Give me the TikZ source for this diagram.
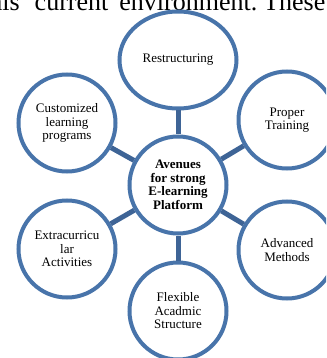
\documentclass[tikz,border=0pt]{standalone}
\usepackage{fontspec}
\setmainfont{Liberation Serif}
\usepackage{xcolor}
\definecolor{rim}{RGB}{72,116,170}
\definecolor{spk}{RGB}{62,100,150}
\usetikzlibrary{shapes.geometric}

\begin{document}
\begin{tikzpicture}[x=1pt,y=-1pt,
  bubble/.style={circle,draw=rim,line width=4pt,fill=white,minimum size=97pt,
    inner sep=0pt,align=center,font=\fontsize{13}{13.5}\selectfont},
  link/.style={draw=spk,line width=5pt}]
\useasboundingbox (0,0) rectangle (326,358);
\clip (0,0) rectangle (326,358);
% cut line of the page text above
\node[anchor=base west,inner sep=0pt,font=\fontsize{26}{26}\selectfont] (pagetext) at (-18,11)
  {this\hspace{15pt}current\hspace{11pt}environment.\hspace{6pt}These};

\node[bubble,font=\bfseries\fontsize{13}{13.5}\selectfont] (hub) at (178,185) {Avenues\\for strong\\E-learning\\Platform};
\node[bubble,ellipse,minimum width=117pt,minimum height=97pt] (restr) at (178,60) {Restructuring};
\node[bubble] (train) at (287,120) {Proper\\Training};
\node[bubble] (adv) at (287,250) {Advanced\\Methods};
\node[bubble] (flex) at (178,311) {Flexible\\Acadmic\\Structure};
\node[bubble] (extra) at (67,249) {Extracurricu\\lar\\Activities};
\node[bubble] (custom) at (67,123) {Customized\\learning\\programs};

% spokes
\draw[link] (hub) -- (restr);
\draw[link] (hub) -- (train);
\draw[link] (hub) -- (adv);
\draw[link] (hub) -- (flex);
\draw[link] (hub) -- (extra);
\draw[link] (hub) -- (custom);
\end{tikzpicture}
\end{document}
